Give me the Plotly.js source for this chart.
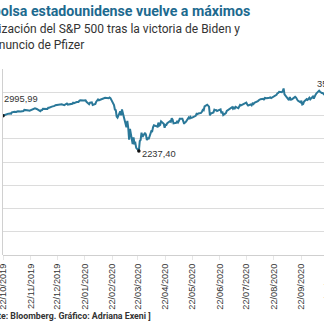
<!DOCTYPE html>
<html>
<head>
<meta charset="utf-8">
<script src="https://cdn.plot.ly/plotly-3.0.1.min.js"></script>
<style>
html,body{margin:0;padding:0;width:324px;height:324px;overflow:hidden;background:#fff;}
#chart{position:absolute;left:-40px;top:0;width:420px;height:324px;}
</style>
</head>
<body>
<div id="chart"></div>
<script>
const titleText = "La bolsa estadounidense vuelve a máximos";
const subtitleText = "Cotización del S&P 500 tras la victoria de Biden y<br>el anuncio de Pfizer";
const sourceText = "[ Fuente: Bloomberg. Gráfico: Adriana Exeni ]";

const dates = [
"2019-10-22","2019-10-23","2019-10-24","2019-10-25","2019-10-28","2019-10-29","2019-10-30","2019-10-31",
"2019-11-01","2019-11-04","2019-11-05","2019-11-06","2019-11-07","2019-11-08","2019-11-11","2019-11-12","2019-11-13","2019-11-14","2019-11-15",
"2019-11-18","2019-11-19","2019-11-20","2019-11-21","2019-11-22","2019-11-25","2019-11-26","2019-11-27","2019-11-29",
"2019-12-02","2019-12-03","2019-12-04","2019-12-05","2019-12-06","2019-12-09","2019-12-10","2019-12-11","2019-12-12","2019-12-13",
"2019-12-16","2019-12-17","2019-12-18","2019-12-19","2019-12-20","2019-12-23","2019-12-24","2019-12-26","2019-12-27","2019-12-30","2019-12-31",
"2020-01-02","2020-01-03","2020-01-06","2020-01-07","2020-01-08","2020-01-09","2020-01-10","2020-01-13","2020-01-14","2020-01-15","2020-01-16","2020-01-17",
"2020-01-21","2020-01-22","2020-01-23","2020-01-24","2020-01-27","2020-01-28","2020-01-29","2020-01-30","2020-01-31",
"2020-02-03","2020-02-04","2020-02-05","2020-02-06","2020-02-07","2020-02-10","2020-02-11","2020-02-12","2020-02-13","2020-02-14",
"2020-02-18","2020-02-19","2020-02-20","2020-02-21","2020-02-24","2020-02-25","2020-02-26","2020-02-27","2020-02-28",
"2020-03-02","2020-03-03","2020-03-04","2020-03-05","2020-03-06","2020-03-09","2020-03-10","2020-03-11","2020-03-12","2020-03-13",
"2020-03-16","2020-03-17","2020-03-18","2020-03-19","2020-03-20","2020-03-23","2020-03-24","2020-03-25","2020-03-26","2020-03-27",
"2020-03-30","2020-03-31","2020-04-01","2020-04-02","2020-04-03","2020-04-06","2020-04-07","2020-04-08","2020-04-09",
"2020-04-13","2020-04-14","2020-04-15","2020-04-16","2020-04-17","2020-04-20","2020-04-21","2020-04-22","2020-04-23","2020-04-24",
"2020-04-27","2020-04-28","2020-04-29","2020-04-30","2020-05-01","2020-05-04","2020-05-05","2020-05-06","2020-05-07","2020-05-08",
"2020-05-11","2020-05-12","2020-05-13","2020-05-14","2020-05-15","2020-05-18","2020-05-19","2020-05-20","2020-05-21","2020-05-22",
"2020-05-26","2020-05-27","2020-05-28","2020-05-29","2020-06-01","2020-06-02","2020-06-03","2020-06-04","2020-06-05",
"2020-06-08","2020-06-09","2020-06-10","2020-06-11","2020-06-12","2020-06-15","2020-06-16","2020-06-17","2020-06-18","2020-06-19",
"2020-06-22","2020-06-23","2020-06-24","2020-06-25","2020-06-26","2020-06-29","2020-06-30","2020-07-01","2020-07-02",
"2020-07-06","2020-07-07","2020-07-08","2020-07-09","2020-07-10","2020-07-13","2020-07-14","2020-07-15","2020-07-16","2020-07-17",
"2020-07-20","2020-07-21","2020-07-22","2020-07-23","2020-07-24","2020-07-27","2020-07-28","2020-07-29","2020-07-30","2020-07-31",
"2020-08-03","2020-08-04","2020-08-05","2020-08-06","2020-08-07","2020-08-10","2020-08-11","2020-08-12","2020-08-13","2020-08-14",
"2020-08-17","2020-08-18","2020-08-19","2020-08-20","2020-08-21","2020-08-24","2020-08-25","2020-08-26","2020-08-27","2020-08-28",
"2020-08-31","2020-09-01","2020-09-02","2020-09-03","2020-09-04","2020-09-08","2020-09-09","2020-09-10","2020-09-11",
"2020-09-14","2020-09-15","2020-09-16","2020-09-17","2020-09-18","2020-09-21","2020-09-22","2020-09-23","2020-09-24","2020-09-25",
"2020-09-28","2020-09-29","2020-09-30","2020-10-01","2020-10-02","2020-10-05","2020-10-06","2020-10-07","2020-10-08","2020-10-09",
"2020-10-12","2020-10-13","2020-10-14","2020-10-15","2020-10-16","2020-10-19","2020-10-20","2020-10-21","2020-10-22","2020-10-23",
"2020-10-26","2020-10-27","2020-10-28","2020-10-29","2020-10-30","2020-11-02","2020-11-03","2020-11-04","2020-11-05","2020-11-06","2020-11-09"
];

const sp500 = [
2995.99,3004.52,3010.29,3022.55,3039.42,3036.89,3046.77,3037.56,
3066.91,3078.27,3074.62,3076.78,3085.18,3093.08,3087.01,3091.84,3094.04,3096.63,3120.46,
3122.03,3120.18,3108.46,3103.54,3110.29,3133.64,3140.52,3153.63,3140.98,
3113.87,3093.20,3112.76,3117.43,3145.91,3135.96,3132.52,3141.63,3168.57,3168.80,
3191.45,3192.52,3191.14,3205.37,3221.22,3224.01,3223.38,3239.91,3240.02,3221.29,3230.78,
3257.85,3234.85,3246.28,3237.18,3253.05,3274.70,3265.35,3288.13,3283.15,3289.29,3316.81,3329.62,
3320.79,3321.75,3325.54,3295.47,3243.63,3276.24,3273.40,3283.66,3225.52,
3248.92,3297.59,3334.69,3345.78,3327.71,3352.09,3357.75,3379.45,3373.94,3380.16,
3370.29,3386.15,3373.23,3337.75,3225.89,3128.21,3116.39,2978.76,2954.22,
3090.23,3003.37,3130.12,3023.94,2972.37,2746.56,2882.23,2741.38,2480.64,2711.02,
2386.13,2529.19,2398.10,2409.39,2304.92,2237.40,2447.33,2475.56,2630.07,2541.47,
2626.65,2584.59,2470.50,2526.90,2488.65,2663.68,2659.41,2749.98,2789.82,
2761.63,2846.06,2783.36,2799.55,2874.56,2823.16,2736.56,2799.31,2797.80,2836.74,
2878.48,2863.39,2939.51,2912.43,2830.71,2842.74,2868.44,2848.42,2881.19,2929.80,
2930.32,2870.12,2820.00,2852.50,2863.70,2953.91,2922.94,2971.61,2948.51,2955.45,
2991.77,3036.13,3029.73,3044.31,3055.73,3080.82,3122.87,3112.35,3193.93,
3232.39,3207.18,3190.14,3002.10,3041.31,3066.59,3124.74,3113.49,3115.34,3097.74,
3117.86,3131.29,3050.33,3083.76,3009.05,3053.24,3100.29,3115.86,3130.01,
3179.72,3145.32,3169.94,3152.05,3185.04,3155.22,3197.52,3226.56,3215.57,3224.73,
3251.84,3257.30,3276.02,3235.66,3215.63,3239.41,3218.44,3258.44,3246.22,3271.12,
3294.61,3306.51,3327.77,3349.16,3351.28,3360.47,3333.69,3380.35,3373.43,3372.85,
3381.99,3389.78,3374.85,3385.51,3397.16,3431.28,3443.62,3478.73,3484.55,3508.01,
3500.31,3526.65,3580.84,3455.06,3426.96,3331.84,3398.96,3339.19,3340.97,
3383.54,3401.20,3385.49,3357.01,3319.47,3281.06,3315.57,3236.92,3246.59,3298.46,
3351.60,3335.47,3363.00,3380.80,3348.42,3408.60,3360.95,3419.44,3446.83,3477.14,
3534.22,3511.93,3488.67,3483.34,3483.81,3426.92,3443.12,3435.56,3453.49,3465.39,
3400.97,3390.68,3271.03,3310.11,3269.96,3310.24,3369.16,3443.44,3510.45,3509.44,3550.50
];

const tickDates = ["2019-10-22","2019-11-22","2019-12-22","2020-01-22","2020-02-22","2020-03-22","2020-04-22","2020-05-22","2020-06-22","2020-07-22","2020-08-22","2020-09-22","2020-10-22"];
const tickLabels = ["22/10/2019","22/11/2019","22/12/2019","22/01/2020","22/02/2020","22/03/2020","22/04/2020","22/05/2020","22/06/2020","22/07/2020","22/08/2020","22/09/2020","22/10/2020"];

const markedDates = ["2019-10-22","2020-03-23","2020-11-09"];
const markedValues = [2995.99, 2237.40, 3550.50];
const markedLabels = ["2995,99","2237,40","3550,50"];

const narrow = "Liberation Sans, Arial, sans-serif";

const traces = [
  {x: dates, y: sp500, type: "scatter", mode: "lines",
   line: {color: "#2a7899", width: 2}, hoverinfo: "skip"},
  {x: markedDates, y: markedValues, type: "scatter", mode: "markers",
   marker: {color: "#111", size: 3.5}, hoverinfo: "skip"}
];

const annotations = [
  {xref: "paper", yref: "paper", x: 0, y: 1, xshift: -25, yshift: 32.5,
   xanchor: "left", yanchor: "middle", align: "left", showarrow: false,
   text: subtitleText, font: {family: "Roboto, sans-serif", size: 12, color: "#333"}},
  {xref: "paper", yref: "paper", x: 0, y: 0, xshift: -31, yshift: -60.5,
   xanchor: "left", yanchor: "middle", align: "left", showarrow: false,
   text: "<b>" + sourceText + "</b>", font: {family: "Roboto, sans-serif", size: 8.8, color: "#333"}},
  {x: markedDates[0], y: markedValues[0], xanchor: "left", yanchor: "bottom", yshift: 10, xshift: -1,
   showarrow: false, text: markedLabels[0], font: {family: narrow, size: 9.3, color: "#333"}},
  {x: markedDates[1], y: markedValues[1], xanchor: "left", yanchor: "middle", yshift: -3, xshift: 1,
   showarrow: false, text: markedLabels[1], font: {family: narrow, size: 9.3, color: "#333"}},
  {x: markedDates[2], y: markedValues[2], xanchor: "right", yanchor: "bottom", yshift: -1, xshift: 9,
   showarrow: false, text: markedLabels[2], font: {family: narrow, size: 9.3, color: "#333"}}
];

const layout = {
  width: 420, height: 324,
  margin: {l: 43, r: 36, t: 69, b: 69},
  paper_bgcolor: "#fff", plot_bgcolor: "#fff",
  showlegend: false,
  title: {text: "<b>" + titleText + "</b>", xref: "container", yref: "container",
          x: 14/420, xanchor: "left", y: 1 - 11/324, yanchor: "middle",
          font: {family: "Roboto, sans-serif", size: 14.2, color: "#1d6a8f"}},
  xaxis: {type: "date", range: ["2019-10-22", "2020-11-09"],
          tickmode: "array", tickvals: tickDates, ticktext: tickLabels, tickangle: -90,
          tickfont: {family: narrow, size: 9.2, color: "#333"},
          showgrid: false, zeroline: false, showline: false,
          ticks: "outside", ticklen: 4, tickcolor: "#e6e6e6"},
  yaxis: {range: [0, 4000], dtick: 500, showticklabels: false,
          showgrid: true, gridcolor: "#dcdcdc", gridwidth: 1,
          zeroline: true, zerolinecolor: "#cfcfcf", zerolinewidth: 1,
          showline: true, linecolor: "#d0d0d0", linewidth: 1, ticks: ""},
  annotations: annotations
};

Plotly.newPlot("chart", traces, layout, {staticPlot: true, displayModeBar: false});
</script>
</body>
</html>
